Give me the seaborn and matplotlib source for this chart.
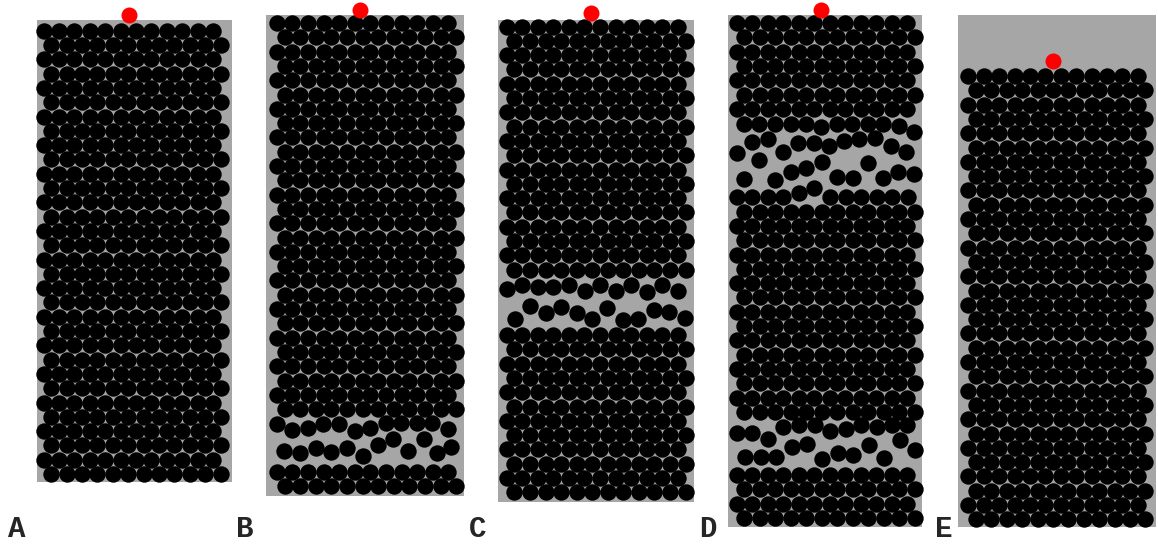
import numpy as np
import pandas as pd
import matplotlib
matplotlib.use("Agg")
import matplotlib.pyplot as plt
from matplotlib.patches import Rectangle
import seaborn as sns

# -----------------------------
# PANEL DATA (figure pixel coordinates, y down)
# -----------------------------
panels = ["A", "B", "C", "D", "E"]
box_x0 = [37, 266, 498, 728, 958]
box_x1 = [232, 464, 694, 922, 1156]
box_y0 = [20, 15, 20, 15, 15]
box_y1 = [482, 496, 502, 527, 527]
first_col = [43.5, 276.7, 506.7, 736.7, 968.3]
col_pitch = [15.4, 15.6, 15.55, 15.5, 15.4]
n_cols = 12
row_pitch = 14.3

# packed blocks per panel: (y of first row, number of rows, first row shifted?)
blocks = {
    "A": [(30.7, 32, 0)],
    "B": [(23.0, 28, 0), (471.7, 2, 0)],
    "C": [(26.5, 18, 0), (335.0, 12, 0)],
    "D": [(23.0, 7, 0), (211.6, 15, 1), (475.0, 4, 0)],
    "E": [(76.0, 32, 0)],
}

loose_B = (260, 380, [
    (50, 132), (97, 150), (143, 143), (190, 132), (237, 132), (284, 152),
    (330, 143), (377, 130), (423, 130), (470, 130), (517, 130), (563, 147),
    (73, 213), (120, 218), (167, 203), (213, 217), (260, 205), (308, 228),
    (353, 195), (400, 178), (445, 212), (492, 176), (530, 218), (573, 200),
])
loose_C = (490, 250, [
    (50, 117), (97, 105), (143, 112), (190, 112), (237, 105), (284, 122),
    (330, 105), (377, 122), (423, 105), (470, 127), (517, 105), (563, 122),
    (75, 207), (120, 167), (167, 190), (213, 170), (260, 188), (307, 207),
    (352, 173), (398, 210), (445, 207), (492, 180), (538, 187), (585, 205),
])
loose_D_top = (720, 110, [
    (72, 42), (118, 42), (165, 42), (212, 42), (258, 42), (303, 50),
    (350, 42), (397, 42), (443, 42), (490, 42), (537, 48), (583, 65),
    (95, 95), (143, 88), (235, 100), (282, 100), (327, 107), (372, 92),
    (418, 88), (465, 85), (512, 107), (558, 125),
    (50, 128), (118, 150), (188, 125), (305, 157), (443, 160),
    (72, 208), (165, 210), (212, 185), (258, 175), (352, 200), (398, 203),
    (488, 203), (535, 185), (582, 193),
    (50, 262), (97, 262), (143, 262), (190, 262), (237, 250), (283, 235),
    (330, 262), (377, 262), (423, 262), (470, 262), (517, 262), (563, 262),
])
loose_D_low = (720, 400, [
    (190, 82), (237, 75), (285, 75), (330, 92), (377, 88), (423, 75),
    (470, 82), (515, 75), (562, 75),
    (50, 100), (97, 98), (145, 118), (215, 140), (262, 132), (448, 135),
    (540, 120), (585, 150),
    (75, 172), (122, 170), (168, 172), (307, 177), (353, 158), (400, 165),
    (493, 175),
])
loose = {"B": [loose_B], "C": [loose_C], "D": [loose_D_top, loose_D_low]}

# red tracer grain on top of each column
red_x = [129, 360, 591, 821, 1053]
red_y = [15, 10, 13, 10, 61]

# panel letters
label_x = [17, 245, 478, 708, 944]
label_y = 529

# -----------------------------
# BUILD GRAIN TABLE
# -----------------------------
rows = []
for i, p in enumerate(panels):
    for y_first, n_rows, shift in blocks[p]:
        for r in range(n_rows):
            off = ((r + shift) % 2) * col_pitch[i] / 2
            for c in range(n_cols):
                rows.append((p, first_col[i] + off + c * col_pitch[i], y_first + r * row_pitch))
    for cx, cy, pts in loose.get(p, []):
        for x, y in pts:
            rows.append((p, cx + x / 3, cy + y / 3))
grains = pd.DataFrame(rows, columns=["panel", "x", "y"])
tracer = pd.DataFrame({"x": red_x, "y": red_y})

# -----------------------------
# PLOT
# -----------------------------
sns.set_style("white")
fig = plt.figure(figsize=(11.58, 5.44), dpi=100)
ax = fig.add_axes([0, 0, 1, 1])
ax.set_xlim(0, 1158)
ax.set_ylim(544, 0)
ax.axis("off")

for i in range(len(panels)):
    ax.add_patch(Rectangle((box_x0[i], box_y0[i]), box_x1[i] - box_x0[i],
                           box_y1[i] - box_y0[i], facecolor="#a6a6a6",
                           edgecolor="none", zorder=0))

d_pt = 16.4 * 0.72
sns.scatterplot(data=grains, x="x", y="y", color="black", s=d_pt ** 2,
                linewidth=0, ax=ax, zorder=2, legend=False)
sns.scatterplot(data=tracer, x="x", y="y", color="#ff0000", s=(16 * 0.72) ** 2,
                linewidth=0, ax=ax, zorder=3, legend=False)

for i, p in enumerate(panels):
    ax.text(label_x[i], label_y, p, ha="center", va="center", fontsize=21,
            fontweight="bold", family="Liberation Mono")

ax.set_xlabel("")
ax.set_ylabel("")
fig.savefig("out.png", dpi=100)
